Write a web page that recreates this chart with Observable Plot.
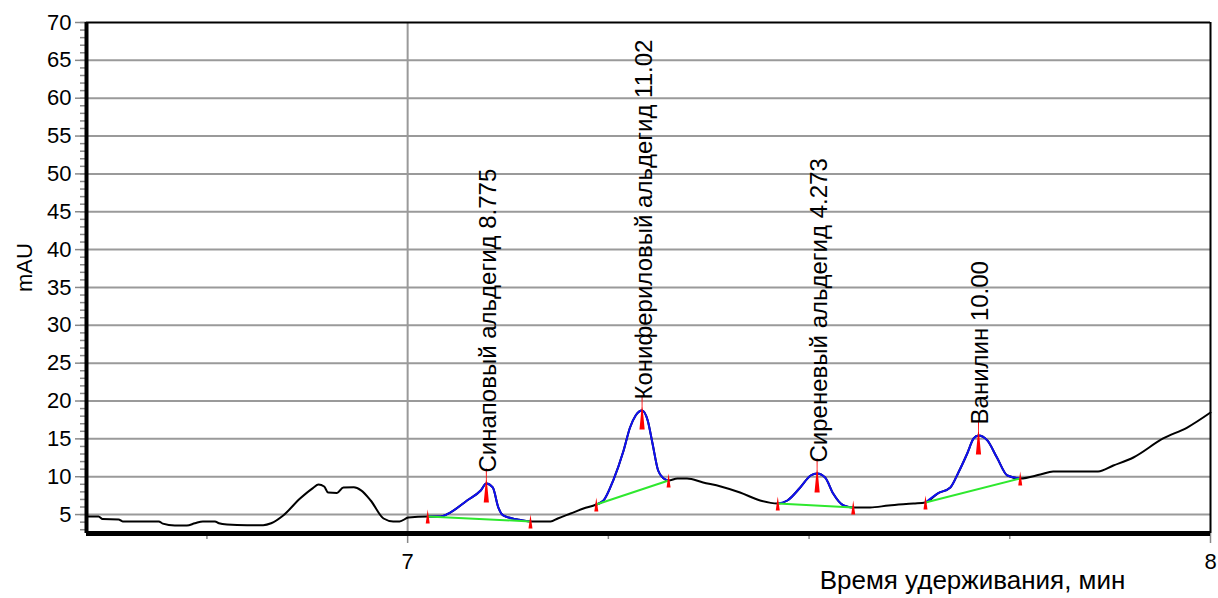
<!DOCTYPE html>
<html><head><meta charset="utf-8">
<script src="https://cdn.jsdelivr.net/npm/d3@7"></script>
<script src="https://cdn.jsdelivr.net/npm/@observablehq/plot@0.6"></script>
<style>html,body{margin:0;padding:0;background:#fff;}</style>
</head><body><div id="chart"></div>
<script>
// Chromatogram trace (retention time, min / signal, mAU)
const traceTime = [6.600,6.615,6.620,6.640,6.645,6.690,6.695,6.710,6.725,6.735,6.745,6.760,6.765,6.775,6.800,6.820,6.830,6.845,6.866,6.882,6.889,6.896,6.901,6.912,6.920,6.933,6.942,6.954,6.970,6.982,6.990,7.001,7.025,
  7.041,7.053,7.074,7.091,7.098,7.106,7.113,7.119,7.137,7.153,
  7.178,7.187,7.203,7.219,7.235,7.244,7.256,7.269,7.277,7.284,7.292,7.299,7.305,7.312,7.319,7.325,
  7.336,7.348,7.368,7.390,7.414,7.439,7.461,7.473,7.489,7.502,7.510,7.520,7.530,7.543,7.555,
  7.576,7.599,7.630,7.645,7.660,7.676,7.686,7.697,7.705,7.711,7.722,7.734,7.747,7.763,
  7.788,7.804,7.860,7.879,7.904,7.941,7.971,8.000];
const traceSignal = [4.75,4.75,4.40,4.35,4.10,4.10,3.80,3.56,3.56,3.85,4.10,4.10,3.85,3.69,3.60,3.60,3.85,4.88,7.12,8.50,8.97,8.70,7.90,7.85,8.58,8.60,8.20,6.86,4.48,4.09,4.09,4.61,4.75,
  4.75,5.27,6.86,8.18,9.10,8.58,5.93,4.88,4.35,4.09,
  4.09,4.48,5.14,5.80,6.33,6.86,9.50,13.46,16.50,18.09,18.75,17.43,14.39,10.82,9.77,9.50,
  9.77,9.77,9.24,8.71,7.92,6.86,6.46,6.86,8.58,10.16,10.43,9.90,7.78,6.20,5.93,
  5.93,6.20,6.46,6.60,7.78,8.58,10.56,13.07,15.05,15.45,14.79,12.54,10.16,9.77,
  10.29,10.69,10.69,11.48,12.54,15.05,16.50,18.48];

// Peaks
const peakNames = ["Синаповый альдегид", "Конифериловый альдегид", "Сиреневый альдегид", "Ванилин"];
const peakAmounts = ["8.775", "11.02", "4.273", "10.00"];
const peakApexTime = [7.098, 7.292, 7.510, 7.711];
const peakApexSignal = [9.10, 18.75, 10.43, 15.45];
const peakStartTime = [7.025, 7.235, 7.461, 7.645];
const peakStartSignal = [4.75, 6.33, 6.46, 6.60];
const peakEndTime = [7.153, 7.325, 7.555, 7.763];
const peakEndSignal = [4.09, 9.50, 5.93, 9.77];

// Axes
const yTicks = [5,10,15,20,25,30,35,40,45,50,55,60,65,70];
const yMinorTicks = d3.range(3, 71, 1);
const xTicks = [7, 8];
const xTickLabels = ["7", "8"];
const xMinorTicks = [6.75, 7.25, 7.5, 7.75];
const xDomain = [6.6, 8];
const yDomain = [2.5, 70];
const xLabel = "Время удерживания, мин";
const yLabel = "mAU";

const trace = traceTime.map((t, i) => ({t, v: traceSignal[i]}));
const peaks = peakNames.map((name, i) => ({
  name, label: name + " " + peakAmounts[i],
  at: peakApexTime[i], av: peakApexSignal[i],
  st: peakStartTime[i], sv: peakStartSignal[i],
  et: peakEndTime[i], ev: peakEndSignal[i]
}));
const blue = peaks.flatMap((p, k) => trace.filter(d => d.t >= p.st && d.t <= p.et).map(d => ({...d, k})));
const edgeMarks = peaks.flatMap(p => [{t: p.st, v: p.sv}, {t: p.et, v: p.ev}]);

const smallSpike = {draw(ctx) { ctx.moveTo(-2, 7); ctx.lineTo(0, -7); ctx.lineTo(2, 7); ctx.closePath(); }};
const apexSpike = {draw(ctx) { ctx.moveTo(-2.6, 19); ctx.lineTo(-0.4, -4); ctx.lineTo(-0.5, -15); ctx.lineTo(0.5, -15); ctx.lineTo(0.4, -4); ctx.lineTo(2.6, 19); ctx.closePath(); }};

const font = "'Liberation Sans', Arial, sans-serif";

const chart = Plot.plot({
  width: 1218, height: 598,
  marginLeft: 86, marginRight: 8, marginTop: 22, marginBottom: 65,
  style: {fontFamily: font, fontSize: "22px", color: "black", background: "white"},
  x: {domain: xDomain},
  y: {domain: yDomain},
  marks: [
    Plot.ruleY(yTicks.filter(d => d < 70), {stroke: "#9a9a9a", strokeWidth: 2}),
    Plot.ruleX([7], {stroke: "#9a9a9a", strokeWidth: 2}),
    Plot.ruleY([70], {stroke: "black", strokeWidth: 2}),
    Plot.ruleX([8], {stroke: "black", strokeWidth: 2}),
    Plot.axisY(yMinorTicks, {tickSize: 6, text: null, stroke: "#888", strokeWidth: 1.5, label: null}),
    Plot.axisY(yTicks, {tickSize: 11, tickPadding: 4, stroke: "#888", strokeWidth: 1.5, label: null, fontSize: 22}),
    Plot.axisX(xMinorTicks, {tickSize: 6, text: null, stroke: "#888", strokeWidth: 1.5, label: null}),
    Plot.axisX(xTicks, {tickSize: 10, tickPadding: 10, stroke: "#888", strokeWidth: 1.5, label: null, fontSize: 22,
      tickFormat: d => xTickLabels[xTicks.indexOf(d)]}),
    Plot.line(trace, {x: "t", y: "v", stroke: "black", strokeWidth: 2, curve: "monotone-x"}),
    Plot.line(blue, {x: "t", y: "v", z: "k", stroke: "#1010f0", strokeWidth: 2, curve: "monotone-x"}),
    Plot.link(peaks, {x1: "st", y1: "sv", x2: "et", y2: "ev", stroke: "#2ee82e", strokeWidth: 2}),
    Plot.dot(edgeMarks, {x: "t", y: "v", symbol: smallSpike, fill: "red", stroke: "none", r: 3}),
    Plot.dot(peaks, {x: "at", y: "av", symbol: apexSpike, fill: "red", stroke: "none", r: 3}),
    Plot.text(peaks, {x: "at", y: "av", text: "label", rotate: -90, textAnchor: "start", dx: 2, dy: -11, fontSize: 24, fill: "black"}),
    Plot.ruleX([6.6], {stroke: "black", strokeWidth: 4}),
    Plot.ruleY([2.5], {stroke: "black", strokeWidth: 5}),
    Plot.text([yLabel], {frameAnchor: "left", rotate: -90, dx: -62, dy: 14, text: d => d, fontSize: 22}),
    Plot.text([xLabel], {frameAnchor: "bottom", dx: 324, dy: 55, text: d => d, fontSize: 26})
  ]
});
document.getElementById("chart").appendChild(chart);
</script>
</body></html>
